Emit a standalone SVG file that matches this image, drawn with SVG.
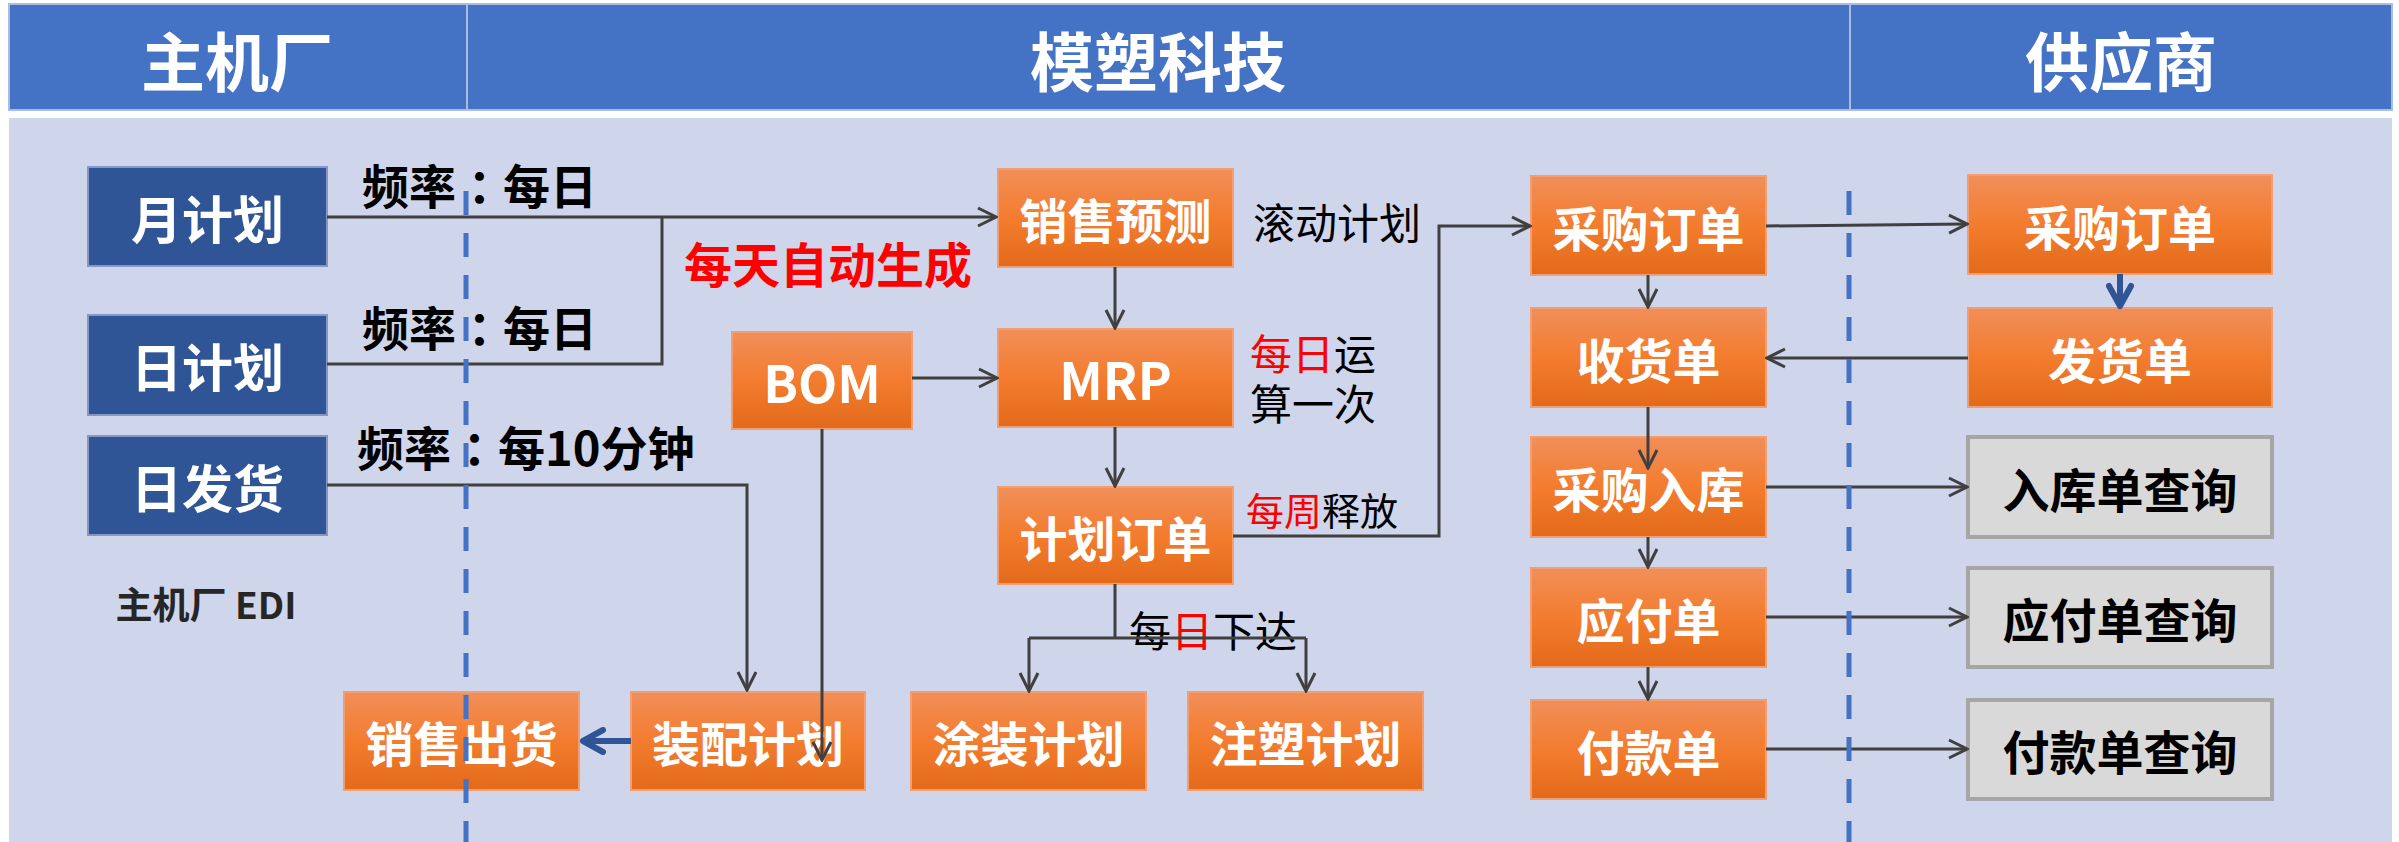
<svg xmlns="http://www.w3.org/2000/svg" width="2399" height="842" viewBox="0 0 2399 842">
<defs>
<linearGradient id="og" x1="0" y1="0" x2="0" y2="1">
<stop offset="0" stop-color="#F18F5A"/>
<stop offset="0.5" stop-color="#F37C2E"/>
<stop offset="1" stop-color="#E36A1A"/>
</linearGradient>
<marker id="ah" viewBox="0 0 22 22" refX="20" refY="11" markerWidth="22" markerHeight="22" markerUnits="userSpaceOnUse" orient="auto">
<path d="M2,2 L20,11 L2,20" fill="none" stroke="#404040" stroke-width="3"/>
</marker>
<marker id="bh" viewBox="0 0 28 28" refX="24" refY="14" markerWidth="28" markerHeight="28" markerUnits="userSpaceOnUse" orient="auto">
<path d="M4,3 L24,14 L4,25" fill="none" stroke="#2F5597" stroke-width="6" stroke-linecap="round" stroke-linejoin="round"/>
</marker>
<style>
.hd{fill:#4472C4;stroke:#A9BCE3;stroke-width:2}
.ht{font-family:"Noto Sans CJK SC","Noto Sans",sans-serif;font-weight:bold;font-size:64px;fill:#fff;text-anchor:middle;dominant-baseline:central}
.bb{fill:#2F5597;stroke:#8497C6;stroke-width:2}
.ob{fill:url(#og);stroke:#F29E70;stroke-width:2}
.gb{fill:#D9D9D9;stroke:#A6A6A6;stroke-width:4}
.wt{font-family:"Noto Sans CJK SC","Noto Sans",sans-serif;font-weight:bold;font-size:48px;fill:#fff;text-anchor:middle;dominant-baseline:central}
.wb{font-size:51px}
.kt{font-family:"Noto Sans CJK SC","Noto Sans",sans-serif;font-weight:bold;font-size:47px;fill:#000;text-anchor:middle;dominant-baseline:central}
.lb{font-family:"Noto Sans CJK SC","Noto Sans",sans-serif;font-weight:bold;font-size:47px;fill:#000;dominant-baseline:central}
.cl{font-family:"Noto Sans CJK JP","Noto Sans CJK SC",sans-serif}
.ln{font-family:"Noto Sans CJK SC","Noto Sans",sans-serif;font-size:42px;fill:#000;dominant-baseline:central}
.red{fill:#FF0000}
.cn{fill:none;stroke:#404040;stroke-width:3}
.bl{fill:none;stroke:#2F5597;stroke-width:6}
.ds{fill:none;stroke:#4472C4;stroke-width:5;stroke-dasharray:24 18}
</style>
</defs>
<rect x="0" y="0" width="2399" height="842" fill="#fff"/>
<g id="header">
<rect class="hd" x="9" y="4" width="458" height="106"/>
<rect class="hd" x="467" y="4" width="1383" height="106"/>
<rect class="hd" x="1850" y="4" width="542" height="106"/>
<text class="ht" x="237" y="58">主机厂</text>
<text class="ht" x="1158" y="58">模塑科技</text>
<text class="ht" x="2121" y="58">供应商</text>
</g>
<rect id="body" x="9" y="118" width="2383" height="724" fill="#CFD5EA"/>
<g id="n-yuejihua"><rect class="bb" x="88" y="167" width="239" height="99"/><text class="wt wb" x="207.5" y="216.5">月计划</text></g>
<g id="n-rijihua"><rect class="bb" x="88" y="315" width="239" height="100"/><text class="wt wb" x="207.5" y="365">日计划</text></g>
<g id="n-rifahuo"><rect class="bb" x="88" y="436" width="239" height="99"/><text class="wt wb" x="207.5" y="485.5">日发货</text></g>
<g id="n-xiaoshouyuce"><rect class="ob" x="998" y="169" width="235" height="98"/><text class="wt" x="1115.5" y="218">销售预测</text></g>
<g id="n-mrp"><rect class="ob" x="998" y="329" width="235" height="98"/><text class="wt wb" x="1115.5" y="378">MRP</text></g>
<g id="n-jihuadingdan"><rect class="ob" x="998" y="487" width="235" height="97"/><text class="wt" x="1115.5" y="535.5">计划订单</text></g>
<g id="n-bom"><rect class="ob" x="732" y="332" width="180" height="97"/><text class="wt wb" x="822" y="380.5">BOM</text></g>
<g id="n-xiaoshouchuhuo"><rect class="ob" x="344" y="692" width="235" height="98"/><text class="wt" x="461.5" y="741">销售出货</text></g>
<g id="n-zhuangpei"><rect class="ob" x="631" y="692" width="234" height="98"/><text class="wt" x="748" y="741">装配计划</text></g>
<g id="n-tuzhuang"><rect class="ob" x="911" y="692" width="235" height="98"/><text class="wt" x="1028.5" y="741">涂装计划</text></g>
<g id="n-zhusu"><rect class="ob" x="1188" y="692" width="235" height="98"/><text class="wt" x="1305.5" y="741">注塑计划</text></g>
<g id="n-caigoudingdan-l"><rect class="ob" x="1531" y="176" width="235" height="99"/><text class="wt" x="1648.5" y="225.5">采购订单</text></g>
<g id="n-shouhuodan"><rect class="ob" x="1531" y="308" width="235" height="99"/><text class="wt" x="1648.5" y="357.5">收货单</text></g>
<g id="n-caigouruku"><rect class="ob" x="1531" y="437" width="235" height="100"/><text class="wt" x="1648.5" y="487">采购入库</text></g>
<g id="n-yingfudan"><rect class="ob" x="1531" y="568" width="235" height="99"/><text class="wt" x="1648.5" y="617.5">应付单</text></g>
<g id="n-fukuandan"><rect class="ob" x="1531" y="700" width="235" height="99"/><text class="wt" x="1648.5" y="749.5">付款单</text></g>
<g id="n-caigoudingdan-r"><rect class="ob" x="1968" y="175" width="304" height="99"/><text class="wt" x="2120" y="224.5">采购订单</text></g>
<g id="n-fahuodan"><rect class="ob" x="1968" y="308" width="304" height="99"/><text class="wt" x="2120" y="357.5">发货单</text></g>
<g id="n-rukuchaxun"><rect class="gb" x="1968" y="437" width="304" height="100"/><text class="kt" x="2120" y="487">入库单查询</text></g>
<g id="n-yingfuchaxun"><rect class="gb" x="1968" y="568" width="304" height="99"/><text class="kt" x="2120" y="617.5">应付单查询</text></g>
<g id="n-fukuanchaxun"><rect class="gb" x="1968" y="700" width="304" height="99"/><text class="kt" x="2120" y="749.5">付款单查询</text></g>
<g id="labels">
<text class="lb" x="362" y="183.5">频率<tspan class="cl">：</tspan>每日</text>
<text class="lb" x="362" y="325.5">频率<tspan class="cl">：</tspan>每日</text>
<text class="lb" x="357" y="445.5">频率<tspan class="cl">：</tspan>每10分钟</text>
<text class="lb red" x="684" y="262" style="font-size:48px">每天自动生成</text>
<text class="lb" x="206" y="603" text-anchor="middle" style="font-size:37px;fill:#262626">主机厂 EDI</text>
<text class="ln" x="1253" y="220">滚动计划</text>
<text class="ln" x="1250" y="351"><tspan class="red">每日</tspan>运</text>
<text class="ln" x="1250" y="401">算一次</text>
<text class="ln" x="1246" y="508" style="font-size:38px"><tspan class="red">每周</tspan>释放</text>
<text class="ln" x="1129" y="628">每<tspan class="red">日</tspan>下达</text>
</g>
<g id="connectors">
<path class="cn" d="M327,217 H996" marker-end="url(#ah)"/>
<path class="cn" d="M327,364 H662 V217"/>
<path class="cn" d="M327,485 H747 V690" marker-end="url(#ah)"/>
<path class="cn" d="M1115,267 V328" marker-end="url(#ah)"/>
<path class="cn" d="M912,378 H997" marker-end="url(#ah)"/>
<path class="cn" d="M1115,427 V486" marker-end="url(#ah)"/>
<path class="cn" d="M822,429 V760" marker-end="url(#ah)"/>
<path class="cn" d="M1233,536 H1439 V226 H1530" marker-end="url(#ah)"/>
<path class="cn" d="M1115,584 V638"/>
<path class="cn" d="M1029,638 H1306"/>
<path class="cn" d="M1029,638 V691" marker-end="url(#ah)"/>
<path class="cn" d="M1306,638 V691" marker-end="url(#ah)"/>
<path class="bl" d="M631,741 H583" marker-end="url(#bh)"/>
<path class="cn" d="M1766,226 L1967,224" marker-end="url(#ah)"/>
<path class="bl" d="M2120,274 V306" marker-end="url(#bh)"/>
<path class="cn" d="M1968,358 H1767" marker-end="url(#ah)"/>
<path class="cn" d="M1648,275 V307" marker-end="url(#ah)"/>
<path class="cn" d="M1648,407 V468" marker-end="url(#ah)"/>
<path class="cn" d="M1648,537 V567" marker-end="url(#ah)"/>
<path class="cn" d="M1648,667 V699" marker-end="url(#ah)"/>
<path class="cn" d="M1766,487 H1967" marker-end="url(#ah)"/>
<path class="cn" d="M1766,617 H1967" marker-end="url(#ah)"/>
<path class="cn" d="M1766,749 H1967" marker-end="url(#ah)"/>
</g>
<g id="lanes">
<line class="ds" x1="466" y1="191" x2="466" y2="842"/>
<line class="ds" x1="1849" y1="191" x2="1849" y2="842"/>
</g>
</svg>
